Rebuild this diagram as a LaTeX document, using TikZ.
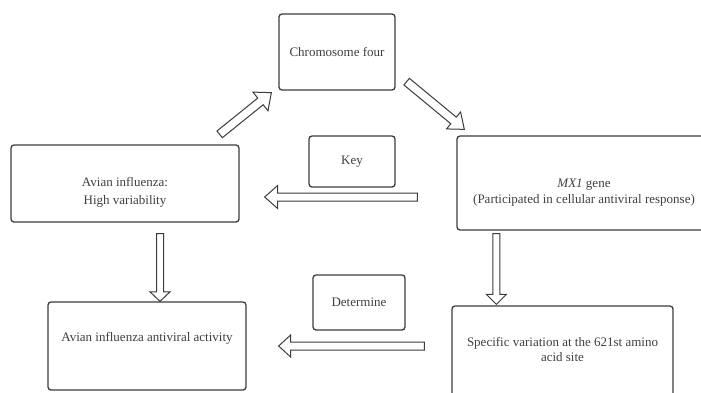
\documentclass[tikz,border=0pt]{standalone}
\usepackage{fontspec}
\setmainfont{Liberation Serif}
\usetikzlibrary{calc}
\definecolor{edge}{HTML}{3C3C3C}
\definecolor{ink}{HTML}{404040}
\tikzset{
 box/.style={draw=edge, line width=1.3pt, rounded corners=3pt, fill=white, inner sep=0pt},
 lbl/.style={text=ink, font=\fontsize{13}{15.5}\selectfont, align=center, inner sep=0pt},
 blk/.style={draw=edge, line width=1pt, fill=white, line join=miter},
}
\newcommand\blockarrow[5]{%
 \coordinate (hb) at ($(#2)!#4pt!(#1)$);
 \draw[blk] ($(#1)!#3pt!90:(#2)$) -- ($(hb)!#3pt!90:(#2)$) -- ($(hb)!#5pt!90:(#2)$) -- (#2) -- ($(hb)!#5pt!-90:(#2)$) -- ($(hb)!#3pt!-90:(#2)$) -- ($(#1)!#3pt!-90:(#2)$) -- cycle;
}
\begin{document}
\begin{tikzpicture}[x=1pt,y=-1pt]
\useasboundingbox (0,0) rectangle (701,392);
\clip (0,0) rectangle (701,392);
% boxes
\node[box, minimum width=116pt, minimum height=76pt] (chrom) at (337,52) {};
\node[lbl] (chromt) at (chrom.center) {Chromosome four};
\node[box, minimum width=228pt, minimum height=77pt] (high) at (125,183.5) {};
\node[lbl] (hight) at ($(high.center)+(0,8.5)$) {Avian influenza:\\[2.5pt]High variability};
\node[box, minimum width=86pt, minimum height=51pt] (key) at (352,161.5) {};
\node[lbl] (keyt) at (key.center) {Key};
\node[box, minimum width=254pt, minimum height=94pt] (mx1) at (584,183) {};
\node[lbl] (mx1t) at ($(mx1.center)+(0,9.5)$) {\textit{MX1} gene\\(Participated in cellular antiviral response)};
\node[box, minimum width=92pt, minimum height=55pt] (det) at (359,302.5) {};
\node[lbl] (dett) at (det.center) {Determine};
\node[box, minimum width=198pt, minimum height=88pt] (act) at (147,346) {};
\node[lbl] (actt) at ($(act.center)+(0,-8)$) {Avian influenza antiviral activity};
\node[box, minimum width=221pt, minimum height=92pt] (spec) at (562.5,352) {};
\node[lbl] (spect) at ($(spec.center)+(0,-2.5)$) {Specific variation at the 621st amino\\acid site};
% arrow end points
\coordinate (a1s) at ($(high.north east)+(-20,-10)$);
\coordinate (a1e) at ($(chrom.south west)+(-7,2)$);
\coordinate (a2s) at ($(chrom.south east)+(11,-9)$);
\coordinate (a2e) at ($(mx1.north west)+(8,-6)$);
\coordinate (a3s) at ($(mx1.west)+(-39,14)$);
\coordinate (a3e) at ($(high.east)+(25,13.5)$);
\coordinate (a4s) at ($(high.south)+(35,11)$);
\coordinate (a4e) at ($(act.north)+(13,0)$);
\coordinate (a5s) at ($(mx1.south west)+(40,3)$);
\coordinate (a5e) at ($(spec.north west)+(45,-1)$);
\coordinate (a6s) at ($(spec.west)+(-27,-6)$);
\coordinate (a6e) at ($(act.east)+(32,0)$);
% block arrows
\blockarrow{a1s}{a1e}{4.3}{14}{12}
\blockarrow{a2s}{a2e}{4.3}{14}{11}
\blockarrow{a3s}{a3e}{4}{13}{11.5}
\blockarrow{a4s}{a4e}{3.5}{9.5}{10}
\blockarrow{a5s}{a5e}{3.5}{10}{10}
\blockarrow{a6s}{a6e}{4}{12}{11}
\end{tikzpicture}
\end{document}
